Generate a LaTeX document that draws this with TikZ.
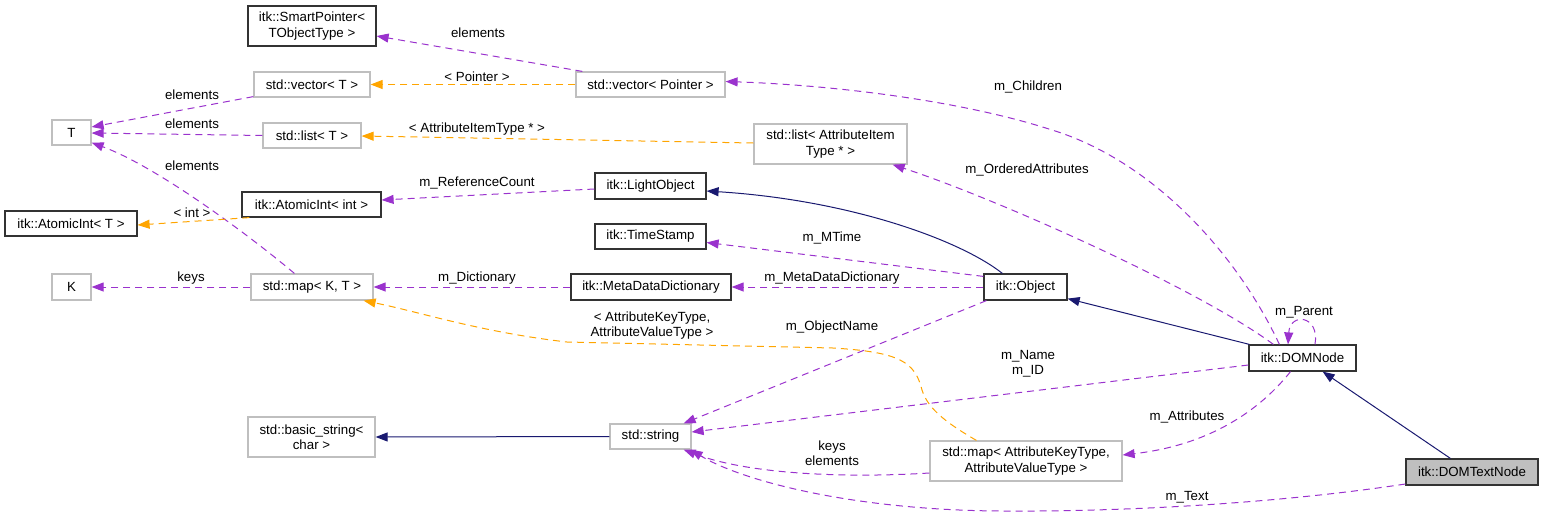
\documentclass[tikz,border=0pt]{standalone}
\usepackage{fontspec}
\setmainfont{Liberation Sans}
\usetikzlibrary{arrows.meta,calc}
\definecolor{mpurple}{HTML}{9A32CD}
\definecolor{morange}{HTML}{FFA500}
\definecolor{mnavy}{HTML}{191970}
\definecolor{mgray}{HTML}{BFBFBF}
\definecolor{mdark}{HTML}{333333}
\tikzset{
  box/.style={draw=mdark,line width=1.2pt,fill=white,inner sep=0pt,font=\fontsize{13.3}{15.5}\selectfont,align=center},
  gbox/.style={box,draw=mgray},
  selfbox/.style={box,fill=mgray},
  lbl/.style={inner sep=0pt,font=\fontsize{13.3}{15}\selectfont,align=center},
  tip/.style={-{Triangle[length=12pt,width=9pt]}},
  mem/.style={tip,draw=mpurple,line width=1pt,dash pattern=on 7pt off 5pt},
  tmpl/.style={tip,draw=morange,line width=1pt,dash pattern=on 7pt off 5pt},
  inh/.style={tip,draw=mnavy,line width=1pt},
}
\begin{document}
\begin{tikzpicture}[x=1pt,y=-1pt]
\useasboundingbox (0,0) rectangle (1541,517);
% nodes
\node[box,minimum width=128pt,minimum height=40pt] (sp) at (312,26) {itk::SmartPointer\textless\\TObjectType \textgreater};
\node[gbox,minimum width=116pt,minimum height=25pt] (vecT) at (312,84.5) {std::vector\textless{} T \textgreater};
\node[gbox,minimum width=39pt,minimum height=25pt] (T) at (71.5,132.5) {T};
\node[gbox,minimum width=98pt,minimum height=25pt] (listT) at (312,135.5) {std::list\textless{} T \textgreater};
\node[box,minimum width=139pt,minimum height=25pt] (aint) at (311.5,204.5) {itk::AtomicInt\textless{} int \textgreater};
\node[box,minimum width=132pt,minimum height=25pt] (aT) at (71,223.5) {itk::AtomicInt\textless{} T \textgreater};
\node[gbox,minimum width=39pt,minimum height=26pt] (K) at (71.5,287) {K};
\node[gbox,minimum width=122pt,minimum height=26pt] (mapKT) at (312,287) {std::map\textless{} K, T \textgreater};
\node[gbox,minimum width=127pt,minimum height=40pt] (bstr) at (311.5,437) {std::basic\_string\textless\\char \textgreater};
\node[gbox,minimum width=149pt,minimum height=25pt] (vecP) at (650.5,84.5) {std::vector\textless{} Pointer \textgreater};
\node[gbox,minimum width=153pt,minimum height=40pt] (listA) at (830.5,144) {std::list\textless{} AttributeItem\\Type * \textgreater};
\node[box,minimum width=111pt,minimum height=26pt] (light) at (650.5,186) {itk::LightObject};
\node[box,minimum width=111pt,minimum height=25pt] (ts) at (650.5,236.5) {itk::TimeStamp};
\node[box,minimum width=160pt,minimum height=26pt] (mdd) at (651,287) {itk::MetaDataDictionary};
\node[box,minimum width=83pt,minimum height=26pt] (obj) at (1025.5,287) {itk::Object};
\node[gbox,minimum width=81pt,minimum height=25pt] (str) at (650.5,436.5) {std::string};
\node[gbox,minimum width=192pt,minimum height=40pt] (mapA) at (1026,461) {std::map\textless{} AttributeKeyType,\\AttributeValueType \textgreater};
\node[box,minimum width=107pt,minimum height=26pt] (dom) at (1302.5,358) {itk::DOMNode};
\node[selfbox,minimum width=132pt,minimum height=26pt] (domt) at (1472,472) {itk::DOMTextNode};
% edges
\draw[mem] ($(vecP.north west)+(7,0)$) -- ($(sp.east)+(0,10)$);
\draw[tmpl] (vecP.west) -- (vecT.east);
\draw[mem] ($(vecT.south west)+(0,-1)$) -- ($(T.east)+(0,-5.5)$);
\draw[mem] (listT.west) -- ($(T.east)+(0,0.5)$);
\draw[mem] ($(mapKT.north west)+(44,0)$) .. controls (255,240) and (160,168) .. ($(T.south east)+(0,-3)$);
\draw[tmpl] ($(aint.south west)+(8,0)$) -- ($(aT.east)+(0,1.5)$);
\draw[mem] ($(light.west)+(0,3)$) -- ($(aint.east)+(0,-4.5)$);
\draw[tmpl] ($(listA.west)+(0,-1)$) -- ($(listT.east)+(0,0.5)$);
\draw[mem] (mapKT.west) -- (K.east);
\draw[mem] (mdd.west) -- (mapKT.east);
\draw[tmpl] ($(mapA.north west)+(47,0)$) .. controls (950,425) and (928,410) .. (922,390) .. controls (915,362) and (900,352) .. (833,348) -- (567,342) .. controls (480,332) and (420,312) .. ($(mapKT.south east)+(-10,0)$);
\draw[inh] (str.west) -- (bstr.east);
\draw[inh] ($(obj.north west)+(19,0)$) .. controls (960,240) and (850,200) .. ($(light.east)+(0,5)$);
\draw[mem] ($(obj.north west)+(0,3)$) -- ($(ts.east)+(0,6)$);
\draw[mem] (obj.west) -- (mdd.east);
\draw[mem] ($(obj.south west)+(3,0)$) -- ($(str.north east)+(-8,0)$);
\draw[inh] ($(dom.north west)+(1,0)$) -- ($(obj.south east)+(0,-2)$);
\draw[mem] ($(dom.north west)+(31,0)$) .. controls (1235,250) and (1150,160) .. (1052,130) .. controls (960,100) and (830,85) .. ($(vecP.east)+(0,-3)$);
\draw[mem] ($(dom.north west)+(25,0)$) .. controls (1200,290) and (1000,200) .. ($(listA.south east)+(-15,0)$);
\draw[mem] ($(dom.north)+(12.5,0)$) .. controls (1320,315) and (1290,312) .. ($(dom.north)+(-14.5,0)$);
\draw[mem] ($(dom.west)+(0,7)$) -- ($(str.east)+(0,-4.5)$);
\draw[mem] ($(dom.south)+(-12,0)$) .. controls (1260,410) and (1210,445) .. ($(mapA.east)+(0,-6)$);
\draw[inh] ($(domt.north west)+(45,0)$) -- ($(dom.south east)+(-34,0)$);
\draw[mem] ($(mapA.west)+(0,12)$) .. controls (850,478) and (750,475) .. ($(str.south east)+(-8,0)$);
\draw[mem] ($(domt.west)+(0,12)$) .. controls (1300,500) and (1150,512) .. (1000,511) .. controls (850,510) and (740,480) .. ($(str.south east)+(-1,0)$);
% labels
\node[lbl] (l1) at (478,33) {elements};
\node[lbl] (l2) at (477,77) {\textless{} Pointer \textgreater};
\node[lbl] (l3) at (192,95) {elements};
\node[lbl] (l4) at (192,124) {elements};
\node[lbl] (l5) at (192,166) {elements};
\node[lbl] (l6) at (192,213) {\textless{} int \textgreater};
\node[lbl] (l7) at (477,183) {m\_ReferenceCount};
\node[lbl] (l8) at (477,129) {\textless{} AttributeItemType * \textgreater};
\node[lbl] (l9) at (191,278) {keys};
\node[lbl] (l10) at (477,278) {m\_Dictionary};
\node[lbl] (l11) at (652,326) {\textless{} AttributeKeyType,\\AttributeValueType \textgreater};
\node[lbl] (l12) at (832,238) {m\_MTime};
\node[lbl] (l13) at (832,278) {m\_MetaDataDictionary};
\node[lbl] (l14) at (832,327) {m\_ObjectName};
\node[lbl] (l15) at (1028,87) {m\_Children};
\node[lbl] (l16) at (1027,170) {m\_OrderedAttributes};
\node[lbl] (l17) at (1304,312) {m\_Parent};
\node[lbl] (l18) at (1028,364) {m\_Name\\m\_ID};
\node[lbl] (l19) at (1187,417) {m\_Attributes};
\node[lbl] (l20) at (832,453) {keys\\elements};
\node[lbl] (l21) at (1187,497) {m\_Text};
\end{tikzpicture}
\end{document}
